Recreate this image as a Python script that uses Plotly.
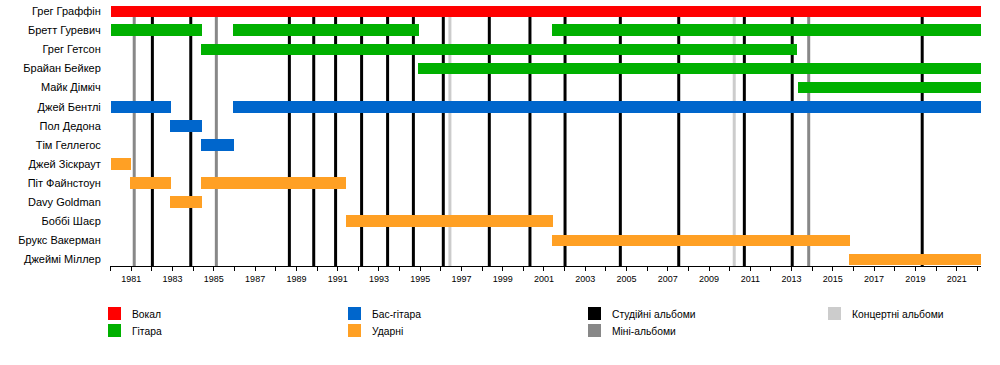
import plotly.graph_objects as go

# ---------------- data ----------------
members = ["Грег Граффін", "Бретт Гуревич", "Грег Гетсон", "Брайан Бейкер", "Майк Дімкіч",
           "Джей Бентлі", "Пол Дедона", "Тім Геллегос", "Джей Зіскраут", "Піт Файнстоун",
           "Davy Goldman", "Боббі Шаєр", "Брукс Вакерман", "Джеймі Міллер"]

START = 1980.0
END = 2022.18

# (member, from, till)
vocals = [("Грег Граффін", START, END)]
guitar = [("Бретт Гуревич", START, 1984.41), ("Бретт Гуревич", 1985.94, 1994.93),
          ("Бретт Гуревич", 2001.40, END), ("Грег Гетсон", 1984.38, 2013.25),
          ("Брайан Бейкер", 1994.91, END), ("Майк Дімкіч", 2013.33, END)]
bass = [("Джей Бентлі", START, 1982.91), ("Джей Бентлі", 1985.94, END),
        ("Пол Дедона", 1982.87, 1984.41), ("Тім Геллегос", 1984.38, 1985.96)]
drums = [("Джей Зіскраут", START, 1980.98), ("Піт Файнстоун", 1980.94, 1982.92),
         ("Піт Файнстоун", 1984.38, 1991.40), ("Davy Goldman", 1982.87, 1984.41),
         ("Боббі Шаєр", 1991.39, 2001.42), ("Брукс Вакерман", 2001.40, 2015.83),
         ("Джеймі Міллер", 2015.78, END)]

studio_albums = [1982.02, 1983.88, 1988.66, 1989.84, 1990.90, 1992.16, 1993.42, 1994.67,
                 1996.12, 1998.35, 2000.32, 2002.02, 2004.70, 2007.53, 2010.71, 2013.03, 2019.33]
ep_albums = [1981.14, 1985.12, 2013.83]
live_albums = [1996.44, 2010.22]

years = list(range(1980, 2023))
year_labels = [str(y) if y % 2 == 1 else "" for y in years]

legend_items = [("Вокал", "#FF0000"), ("Гітара", "#00B000"),
                ("Бас-гітара", "#0066CC"), ("Ударні", "#FFA024"),
                ("Студійні альбоми", "#000000"), ("Міні-альбоми", "#888888"),
                ("Концертні альбоми", "#CCCCCC")]

# ---------------- layout geometry ----------------
W, H = 1000, 365
L, R, T, B = 110, 19, 6, 99
PW, PH = W - L - R, H - T - B
Y_TOP, Y_BOT = -0.27, 13.34
FONT = "Liberation Sans, Arial, sans-serif"

fig = go.Figure()

row_of = {m: i for i, m in enumerate(members)}

shapes, annotations = [], []


def vlines(xs, color, width):
    for v in xs:
        shapes.append(dict(type="line", xref="x", yref="paper", x0=v, x1=v, y0=0, y1=1,
                           line=dict(color=color, width=width), layer="below"))


vlines(live_albums, "#CCCCCC", 3)
vlines(ep_albums, "#888888", 3)
vlines(studio_albums, "#000000", 3)


def bars(spells, color):
    fig.add_trace(go.Bar(
        orientation="h",
        y=[row_of[m] for m, s, e in spells],
        base=[s for m, s, e in spells],
        x=[e - s for m, s, e in spells],
        width=0.61,
        marker=dict(color=color, line=dict(width=0)),
        showlegend=False,
        hoverinfo="skip",
    ))


bars(vocals, "#FF0000")
bars(guitar, "#00B000")
bars(bass, "#0066CC")
bars(drums, "#FFA024")

# ---------------- manual legend ----------------
def px_x(p):
    return (p - L) / PW


def px_y(p):
    return (H - B - p) / PH


legend_pos = [(108, 307), (108, 324), (348, 307), (348, 324), (588, 307), (588, 324), (828, 307)]
for (label, color), (lx, ly) in zip(legend_items, legend_pos):
    shapes.append(dict(type="rect", xref="paper", yref="paper",
                       x0=px_x(lx), x1=px_x(lx + 13), y0=px_y(ly + 13), y1=px_y(ly),
                       fillcolor=color, line=dict(width=0), layer="above"))
    annotations.append(dict(xref="paper", yref="paper", x=px_x(lx + 22), y=px_y(ly + 7.5),
                            xanchor="left", yanchor="middle", text=label, showarrow=False,
                            font=dict(family=FONT, size=10.3, color="#000000")))

fig.update_layout(
    width=W, height=H,
    margin=dict(l=L, r=R, t=T, b=B, pad=0, autoexpand=False),
    paper_bgcolor="white", plot_bgcolor="white",
    barmode="overlay",
    bargap=0,
    showlegend=False,
    shapes=shapes,
    annotations=annotations,
    font=dict(family=FONT, color="#000000"),
    xaxis=dict(range=[1979.966, END], tickvals=years, ticktext=year_labels,
               ticks="outside", ticklen=4, tickwidth=1, tickcolor="#000000",
               showline=True, linecolor="#000000", linewidth=1,
               showgrid=False, zeroline=False, tickfont=dict(size=9, family=FONT),
               fixedrange=True),
    yaxis=dict(range=[Y_BOT, Y_TOP], tickvals=list(range(len(members))), ticktext=members,
               ticks="outside", ticklen=6, tickcolor="rgba(0,0,0,0)",
               showline=False, showgrid=False, zeroline=False,
               tickfont=dict(size=11, family=FONT), fixedrange=True),
)

fig.write_html("out.html", config={"displayModeBar": False},
               post_script="document.body.style.margin='0';")
